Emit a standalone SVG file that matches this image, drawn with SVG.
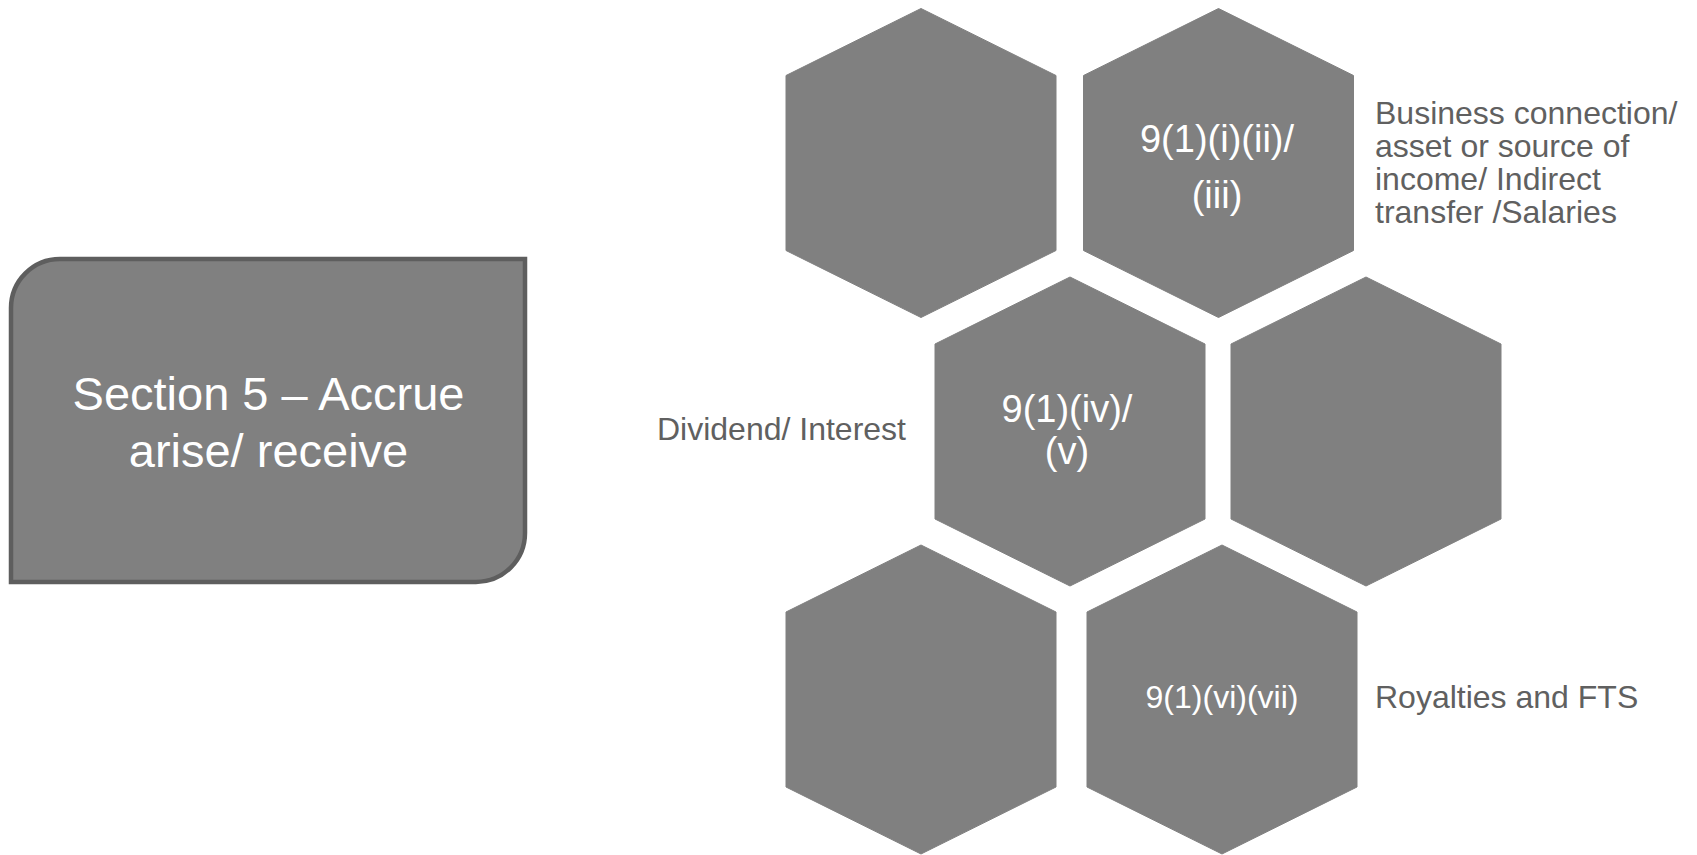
<svg xmlns="http://www.w3.org/2000/svg" width="1697" height="855" viewBox="0 0 1697 855">
<style>
.hex{fill:#808080;stroke:#808080;stroke-width:1;stroke-linejoin:round}
.box{fill:#808080;stroke:#5e5e5e;stroke-width:4.5}
.w{fill:#ffffff;font-family:"Liberation Sans",Arial,sans-serif;text-anchor:middle}
.lbl{fill:#606060;font-family:"Liberation Sans",Arial,sans-serif;font-size:32px}
</style>
<rect width="1697" height="855" fill="#ffffff"/>
<g id="section5">
<path class="box" d="M11,582 L11,308 A49,49 0 0 1 60,259 L525,259 L525,533 A49,49 0 0 1 476,582 Z"/>
<text class="w" font-size="47" x="268.5" y="410">Section 5 – Accrue</text>
<text class="w" font-size="47" x="268.5" y="467">arise/ receive</text>
</g>
<g id="hex1">
<polygon class="hex" points="921,8.5 1056,75.5 1056,250.5 921,317.5 786,250.5 786,75.5"/>
</g>
<g id="hex2">
<polygon class="hex" points="1218.5,8.5 1353.5,75.5 1353.5,250.5 1218.5,317.5 1083.5,250.5 1083.5,75.5"/>
<text class="w" font-size="38" x="1217" y="152">9(1)(i)(ii)/</text>
<text class="w" font-size="38" x="1217" y="208">(iii)</text>
</g>
<g id="label-business">
<text class="lbl" x="1375" y="124">Business connection/</text>
<text class="lbl" x="1375" y="157">asset or source of</text>
<text class="lbl" x="1375" y="190">income/ Indirect</text>
<text class="lbl" x="1375" y="223">transfer /Salaries</text>
</g>
<g id="hex3">
<polygon class="hex" points="1070,277 1205,344 1205,519 1070,586 935,519 935,344"/>
<text class="w" font-size="38" x="1067" y="422">9(1)(iv)/</text>
<text class="w" font-size="38" x="1067" y="464">(v)</text>
</g>
<g id="label-dividend">
<text class="lbl" x="906" y="440" text-anchor="end" font-size="34.5">Dividend/ Interest</text>
</g>
<g id="hex4">
<polygon class="hex" points="1366,277 1501,344 1501,519 1366,586 1231,519 1231,344"/>
</g>
<g id="hex5">
<polygon class="hex" points="921,545 1056,612 1056,787 921,854 786,787 786,612"/>
</g>
<g id="hex6">
<polygon class="hex" points="1222,545 1357,612 1357,787 1222,854 1087,787 1087,612"/>
<text class="w" font-size="32" x="1222" y="708">9(1)(vi)(vii)</text>
</g>
<g id="label-royalties">
<text class="lbl" x="1375" y="708">Royalties and FTS</text>
</g>
<g id="connectors"/>
</svg>
